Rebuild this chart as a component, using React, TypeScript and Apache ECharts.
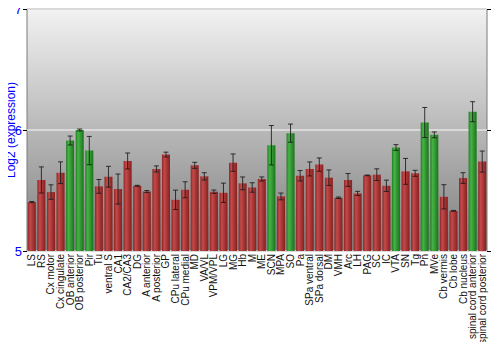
import React, { useEffect, useRef } from "react";
import * as echarts from "echarts";

const categories = [
  "LS", "RS", "Cx motor", "Cx cingulate", "OB anterior", "OB posterior", "Pir", "Tu",
  "ventral S", "CA1", "CA2/CA3", "DG", "A anterior", "A posterior", "GP", "CPu lateral",
  "CPu medial", "MD", "VA/VL", "VPM/VPL", "LG", "MG", "Hb", "M", "ME", "SCN", "MPA", "SO",
  "Pa", "SPa ventral", "SPa dorsal", "DM", "VMH", "Arc", "LH", "PAG", "SC", "IC", "VTA",
  "SN", "Tg", "Pn", "MVe", "Cb vermis", "Cb lobe", "Cb nucleus", "spinal cord anterior",
  "spinal cord posterior",
];

const values = [
  5.404, 5.587, 5.487, 5.647, 5.913, 6.0, 5.83, 5.534,
  5.614, 5.512, 5.744, 5.539, 5.492, 5.678, 5.797, 5.423,
  5.506, 5.708, 5.617, 5.49, 5.481, 5.73, 5.559, 5.525, 5.595, 5.874, 5.451, 5.974,
  5.622, 5.678, 5.714, 5.606, 5.44, 5.587, 5.476, 5.625, 5.631, 5.539, 5.855,
  5.658, 5.642, 6.062, 5.96, 5.448, 5.332, 5.603, 6.151,
  5.739,
];

const errors = [
  0.005, 0.108, 0.06, 0.09, 0.037, 0.008, 0.117, 0.057,
  0.086, 0.124, 0.066, 0.004, 0.008, 0.025, 0.02, 0.08,
  0.066, 0.025, 0.03, 0.014, 0.08, 0.072, 0.053, 0.039, 0.017, 0.163, 0.028, 0.075,
  0.043, 0.058, 0.055, 0.064, 0.006, 0.053, 0.017, 0.003, 0.048, 0.047, 0.024,
  0.107, 0.025, 0.124, 0.024, 0.1, 0.003, 0.044, 0.083,
  0.087,
];

const highlighted = [
  "OB anterior", "OB posterior", "Pir", "SCN", "SO", "VTA", "Pn", "MVe", "spinal cord anterior",
];

const yTicks = [5, 6, 7];

export default function App() {
  const ref = useRef<HTMLDivElement>(null);

  useEffect(() => {
    if (!ref.current) return;
    const chart = echarts.init(ref.current, null, { renderer: "svg" });

    const redGrad = new echarts.graphic.LinearGradient(0, 0, 1, 0, [
      { offset: 0, color: "#8e2626" },
      { offset: 0.3, color: "#c44a4a" },
      { offset: 1, color: "#871f1f" },
    ]);
    const greenGrad = new echarts.graphic.LinearGradient(0, 0, 1, 0, [
      { offset: 0, color: "#247d24" },
      { offset: 0.3, color: "#45b445" },
      { offset: 1, color: "#1c721c" },
    ]);

    const barData = values.map((v, i) => ({
      value: v,
      itemStyle: { color: highlighted.includes(categories[i]) ? greenGrad : redGrad },
    }));

    const errData = values.map((v, i) => [i, v - errors[i], v + errors[i]]);

    const yAxisBase = {
      type: "value" as const,
      min: yTicks[0],
      max: yTicks[yTicks.length - 1],
      interval: 1,
      axisLine: { show: false },
      axisTick: { show: true, length: 4, lineStyle: { color: "#000" } },
      axisLabel: { color: "#0000ff", fontSize: 13, fontFamily: "Liberation Sans", margin: 5 },
    };

    chart.setOption({
      animation: false,
      grid: {
        left: 27,
        right: 13,
        top: 9,
        bottom: 99,
        containLabel: false,
        outerBoundsMode: "none",
        show: true,
        borderColor: "#7a7a7a",
        borderWidth: 1,
        backgroundColor: new echarts.graphic.LinearGradient(0, 0, 0, 1, [
          { offset: 0, color: "#f2f2f2" },
          { offset: 1, color: "#7e7e7e" },
        ]),
      },
      xAxis: {
        type: "category",
        data: categories,
        axisLine: { show: false },
        axisTick: { show: false },
        axisLabel: {
          interval: 0,
          rotate: 90,
          fontSize: 10,
          fontFamily: "Liberation Sans",
          color: "#111",
          margin: 3,
        },
      },
      yAxis: [
        {
          ...yAxisBase,
          position: "left",
          name: "Log2 (expression)",
          nameLocation: "middle",
          nameGap: 10,
          nameMoveOverlap: false,
          nameTextStyle: { color: "#0000ff", fontSize: 12, fontFamily: "Liberation Sans" },
          splitLine: { show: true, lineStyle: { color: "#e4e4e4", width: 1.5 } },
        },
        {
          ...yAxisBase,
          position: "right",
          splitLine: { show: false },
        },
      ],
      series: [
        {
          type: "bar",
          data: barData,
          barWidth: "84%",
          yAxisIndex: 0,
        },
        {
          type: "custom",
          yAxisIndex: 0,
          data: errData,
          z: 10,
          renderItem: (params: any, api: any) => {
            const x = api.value(0);
            const lo = api.coord([x, api.value(1)]);
            const hi = api.coord([x, api.value(2)]);
            const hw = 2.5;
            const style = { stroke: "#1a1a1a", lineWidth: 1, opacity: 0.85 };
            return {
              type: "group",
              children: [
                { type: "line", shape: { x1: hi[0], y1: hi[1], x2: lo[0], y2: lo[1] }, style },
                { type: "line", shape: { x1: hi[0] - hw, y1: hi[1], x2: hi[0] + hw, y2: hi[1] }, style },
                { type: "line", shape: { x1: lo[0] - hw, y1: lo[1], x2: lo[0] + hw, y2: lo[1] }, style },
              ],
            };
          },
        },
      ],
    });

    return () => chart.dispose();
  }, []);

  return <div ref={ref} style={{ width: 500, height: 350, margin: -8 }} />;
}
